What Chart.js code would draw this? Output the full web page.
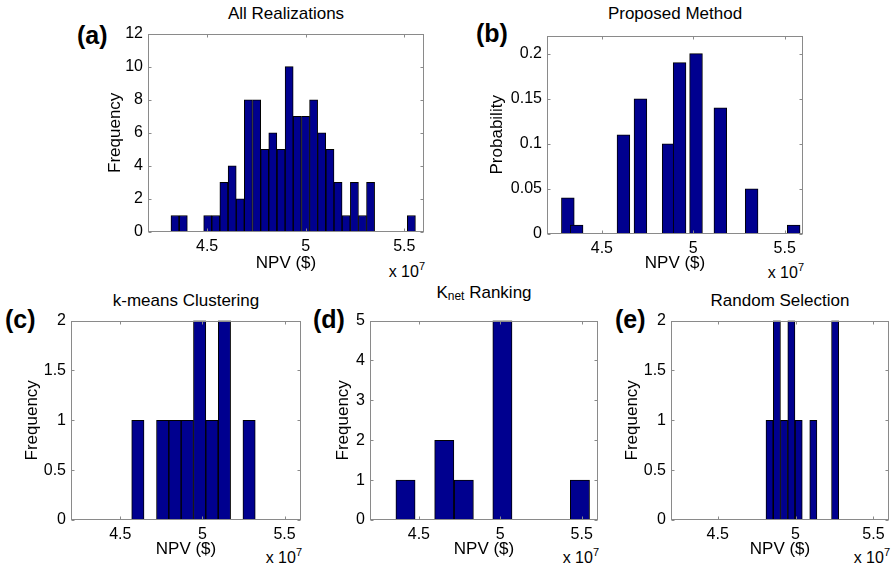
<!DOCTYPE html>
<html>
<head>
<meta charset="utf-8">
<script src="https://cdn.jsdelivr.net/npm/chart.js@4.4.1/dist/chart.umd.min.js"></script>
<style>
  body { margin: 0; background: #fff; width: 892px; height: 568px; position: relative; overflow: hidden;
         font-family: "Liberation Sans", Arial, sans-serif; color: #000; }
  canvas { position: absolute; }
  .ttl { position: absolute; font-size: 17px; line-height: 17px; white-space: nowrap; transform: translateX(-50%); }
  .ttl sub { font-size: 12px; position: relative; top: 2px; vertical-align: baseline; }
  .tag { position: absolute; font-size: 25px; line-height: 25px; font-weight: bold; }
  .exp { position: absolute; font-size: 16px; line-height: 16px; white-space: nowrap; }
  .exp span { font-size: 11px; position: relative; top: -7px; }
</style>
</head>
<body>

<div class="ttl" style="left:286px; top:5px">All Realizations</div>
<div class="ttl" style="left:675px; top:5px">Proposed Method</div>
<div class="ttl" style="left:186px; top:292px">k-means Clustering</div>
<div class="ttl" style="left:484px; top:284px">K<sub>net</sub> Ranking</div>
<div class="ttl" style="left:780px; top:292px">Random Selection</div>

<div class="tag" style="left:77px; top:23px">(a)</div>
<div class="tag" style="left:476px; top:21px">(b)</div>
<div class="tag" style="left:5px; top:307px">(c)</div>
<div class="tag" style="left:313px; top:307px">(d)</div>
<div class="tag" style="left:615px; top:307px">(e)</div>

<div class="exp" style="right:467px; top:264px">x 10<span>7</span></div>
<div class="exp" style="right:88px; top:265px">x 10<span>7</span></div>
<div class="exp" style="right:590px; top:550px">x 10<span>7</span></div>
<div class="exp" style="right:293px; top:550px">x 10<span>7</span></div>
<div class="exp" style="right:2px; top:550px">x 10<span>7</span></div>

<script>
// NPV axis (x 10^7)
const npvTicks = [4.5, 5, 5.5];

// (a) all 100 realizations, 30 bins
const allCenters = [4.337, 4.379, 4.420, 4.461, 4.503, 4.544, 4.585, 4.627, 4.668, 4.709,
                    4.751, 4.792, 4.833, 4.875, 4.916, 4.957, 4.999, 5.040, 5.081, 5.123,
                    5.164, 5.205, 5.247, 5.288, 5.329, 5.371, 5.412, 5.453, 5.495, 5.536];
const allCounts = [1, 1, 0, 0, 1, 1, 3, 4, 2, 8, 8, 5, 6, 5, 10, 7, 7, 8, 6, 5, 3, 1, 3, 1, 3, 0, 0, 0, 0, 1];
const allTicks = [0, 2, 4, 6, 8, 10, 12];

// (b) proposed method
const propCenters = [4.314, 4.362, 4.618, 4.711, 4.865, 4.925, 5.015, 5.148, 5.319, 5.549];
const propProb = [0.04, 0.01, 0.11, 0.15, 0.10, 0.19, 0.20, 0.14, 0.05, 0.01];
const propTicks = [0, 0.05, 0.1, 0.15, 0.2];

// (c) k-means clustering
const kmCenters = [4.607, 4.682, 4.758, 4.833, 4.908, 4.983, 5.058, 5.134, 5.209, 5.284];
const kmCounts = [1, 0, 1, 1, 1, 2, 1, 2, 0, 1];
const kmTicks = [0, 0.5, 1, 1.5, 2];

// (d) Knet ranking
const knCenters = [4.418, 4.537, 4.656, 4.776, 4.895, 5.013, 5.132, 5.251, 5.370, 5.489];
const knCounts = [1, 0, 2, 1, 0, 5, 0, 0, 0, 1];
const knTicks = [0, 1, 2, 3, 4, 5];

// (e) random selection
const rsCenters = [4.833, 4.880, 4.926, 4.973, 5.020, 5.067, 5.114, 5.160, 5.207, 5.254];
const rsCounts = [1, 2, 1, 2, 1, 0, 1, 0, 0, 2];
const rsTicks = [0, 0.5, 1, 1.5, 2];

Chart.defaults.font.family = '"Liberation Sans", Arial, sans-serif';
Chart.defaults.color = '#000';

// matlab style box with inward ticks
const boxAxes = {
  id: 'boxAxes',
  afterDraw(chart) {
    const { ctx, chartArea: a, scales } = chart;
    const l = Math.round(a.left) + 0.5, r = Math.round(a.right) - 0.5;
    const t = Math.round(a.top) + 0.5, b = Math.round(a.bottom) - 0.5;
    ctx.save();
    ctx.strokeStyle = '#8a8a8a';
    ctx.lineWidth = 1;
    ctx.beginPath();
    scales.x.ticks.forEach(tk => {
      const px = Math.round(scales.x.getPixelForValue(tk.value)) + 0.5;
      ctx.moveTo(px, b); ctx.lineTo(px, b - 3);
      ctx.moveTo(px, t); ctx.lineTo(px, t + 3);
    });
    scales.y.ticks.forEach(tk => {
      const py = Math.round(scales.y.getPixelForValue(tk.value)) + 0.5;
      ctx.moveTo(l, py); ctx.lineTo(l + 3, py);
      ctx.moveTo(r, py); ctx.lineTo(r - 3, py);
    });
    ctx.stroke();
    ctx.strokeRect(l, t, r - l, b - t);
    ctx.restore();
  }
};

function makePanel(p) {
  const left = Math.round(p.yTitleX - 10.2);
  const top = p.plot[1] - 12;
  const yW = p.plot[0] - left;
  const xH = Math.round(p.xTitleY + 10.2) - p.plot[3];
  const cv = document.createElement('canvas');
  cv.width = p.plot[2] + 6 - left;
  cv.height = p.plot[3] + xH - top;
  cv.style.left = left + 'px';
  cv.style.top = top + 'px';
  document.body.appendChild(cv);

  new Chart(cv, {
    type: 'bar',
    data: {
      datasets: [{
        data: p.centers.map((c, i) => ({ x: c, y: p.values[i] })),
        backgroundColor: '#00008f',
        borderColor: '#000',
        borderWidth: 1,
        borderSkipped: false,
        barPercentage: 1,
        categoryPercentage: 1,
        barThickness: p.barPx
      }]
    },
    options: {
      responsive: false,
      animation: false,
      events: [],
      layout: { padding: { top: 12, right: 6, left: 0, bottom: 0 } },
      plugins: { legend: { display: false }, tooltip: { enabled: false } },
      scales: {
        x: {
          type: 'linear', min: 4.2, max: 5.6, offset: false,
          grid: { display: false, drawTicks: false }, border: { display: false },
          afterBuildTicks: s => { s.ticks = npvTicks.map(v => ({ value: v })); },
          ticks: { font: { size: 16 }, padding: 5, maxRotation: 0, callback: v => String(v) },
          title: { display: true, text: 'NPV ($)', font: { size: 17 }, padding: 0 },
          afterFit: s => { s.height = xH; }
        },
        y: {
          type: 'linear', min: 0, max: p.yMax,
          grid: { display: false, drawTicks: false }, border: { display: false },
          afterBuildTicks: s => { s.ticks = p.yTicks.map(v => ({ value: v })); },
          ticks: { font: { size: 16 }, padding: 5, callback: v => String(v) },
          title: { display: true, text: p.yLabel, font: { size: 17 }, padding: 0 },
          afterFit: s => { s.width = yW; }
        }
      }
    },
    plugins: [boxAxes]
  });
}

makePanel({ plot: [148, 31, 424, 232], yTitleX: 115, xTitleY: 264,
  centers: allCenters, values: allCounts, yMax: 12, yTicks: allTicks, yLabel: 'Frequency' });
makePanel({ plot: [547, 33, 803, 234], yTitleX: 497, xTitleY: 264,
  centers: propCenters, values: propProb, yMax: 0.22, yTicks: propTicks, yLabel: 'Probability', barPx: 12.8 });
makePanel({ plot: [71, 318, 301, 520], yTitleX: 32, xTitleY: 550,
  centers: kmCenters, values: kmCounts, yMax: 2, yTicks: kmTicks, yLabel: 'Frequency' });
makePanel({ plot: [370, 318, 598, 520], yTitleX: 343, xTitleY: 550,
  centers: knCenters, values: knCounts, yMax: 5, yTicks: knTicks, yLabel: 'Frequency' });
makePanel({ plot: [671, 318, 889, 520], yTitleX: 632, xTitleY: 550,
  centers: rsCenters, values: rsCounts, yMax: 2, yTicks: rsTicks, yLabel: 'Frequency' });
</script>
</body>
</html>
